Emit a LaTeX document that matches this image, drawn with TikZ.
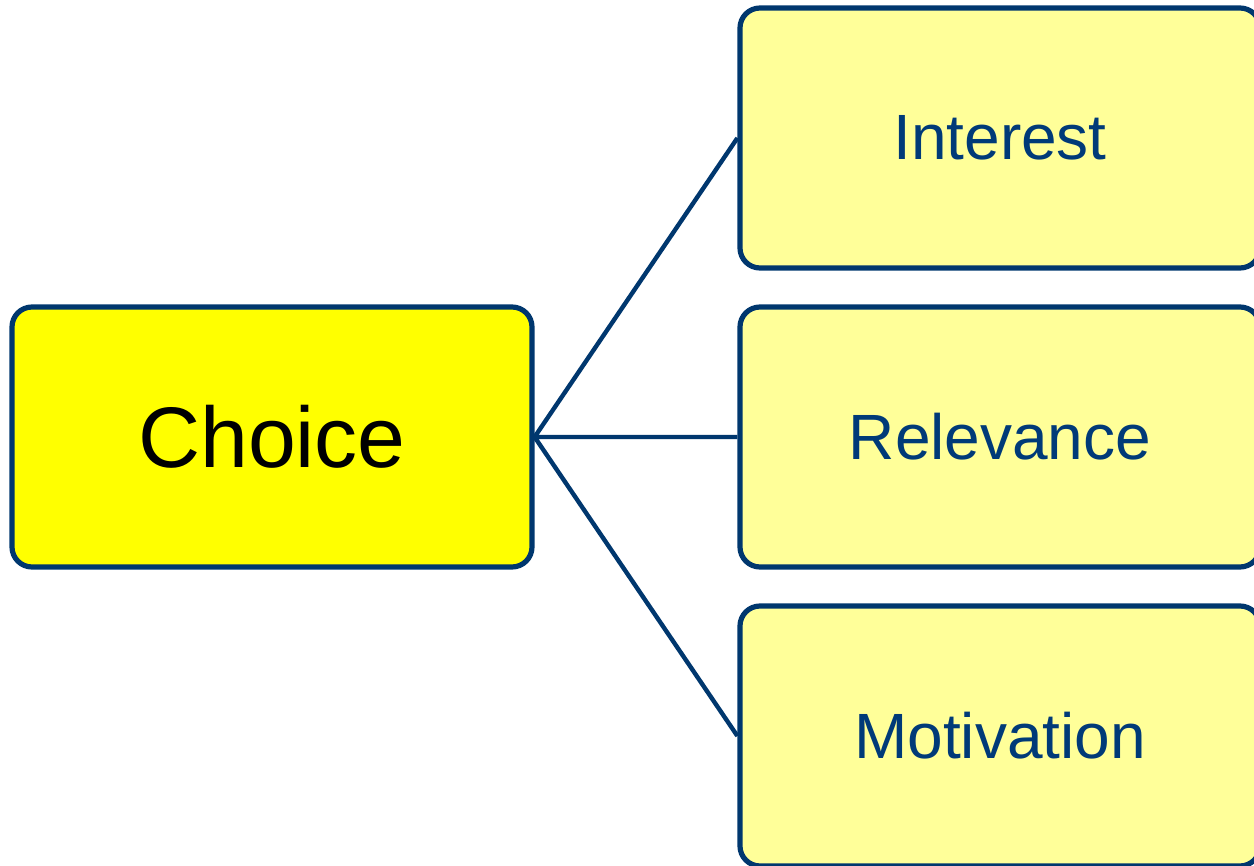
\documentclass[tikz,border=0pt]{standalone}
\usepackage{fontspec}
\setmainfont{Liberation Sans}
\usetikzlibrary{positioning}
\definecolor{Navy}{RGB}{0,55,110}
\definecolor{Ink}{RGB}{0,58,120}
\definecolor{Lemon}{RGB}{255,255,0}
\definecolor{Cream}{RGB}{255,255,153}
\tikzset{
  % rounded boxes with a thick navy border
  topic/.style={
    draw=Navy,line width=2.6pt,rounded corners=10pt,
    fill=#1,minimum width=260pt,minimum height=130pt,inner sep=0pt,
  },
  main/.style={topic=Lemon,text=black,font=\fontsize{43}{46}\selectfont},
  leaf/.style={topic=Cream,text=Ink,font=\fontsize{32}{36}\selectfont},
  % connectors from the main box
  link/.style={draw=Navy,line width=2.2pt},
}
\begin{document}
\begin{tikzpicture}[x=0.5pt,y=-0.5pt]
  \clip (0,0) rectangle (1254,866);
  \node[main] (choice) at (272,437) {Choice};
  \node[leaf] (interest) at (1000,138) {Interest};
  \node[leaf] (relevance) at (1000,437) {Relevance};
  \node[leaf] (motivation) at (1000,736) {Motivation};

  \path[link]
  (choice.east) -- (interest.west)
  (choice.east) -- (relevance.west)
  (choice.east) -- (motivation.west)
  ;
\end{tikzpicture}
\end{document}
